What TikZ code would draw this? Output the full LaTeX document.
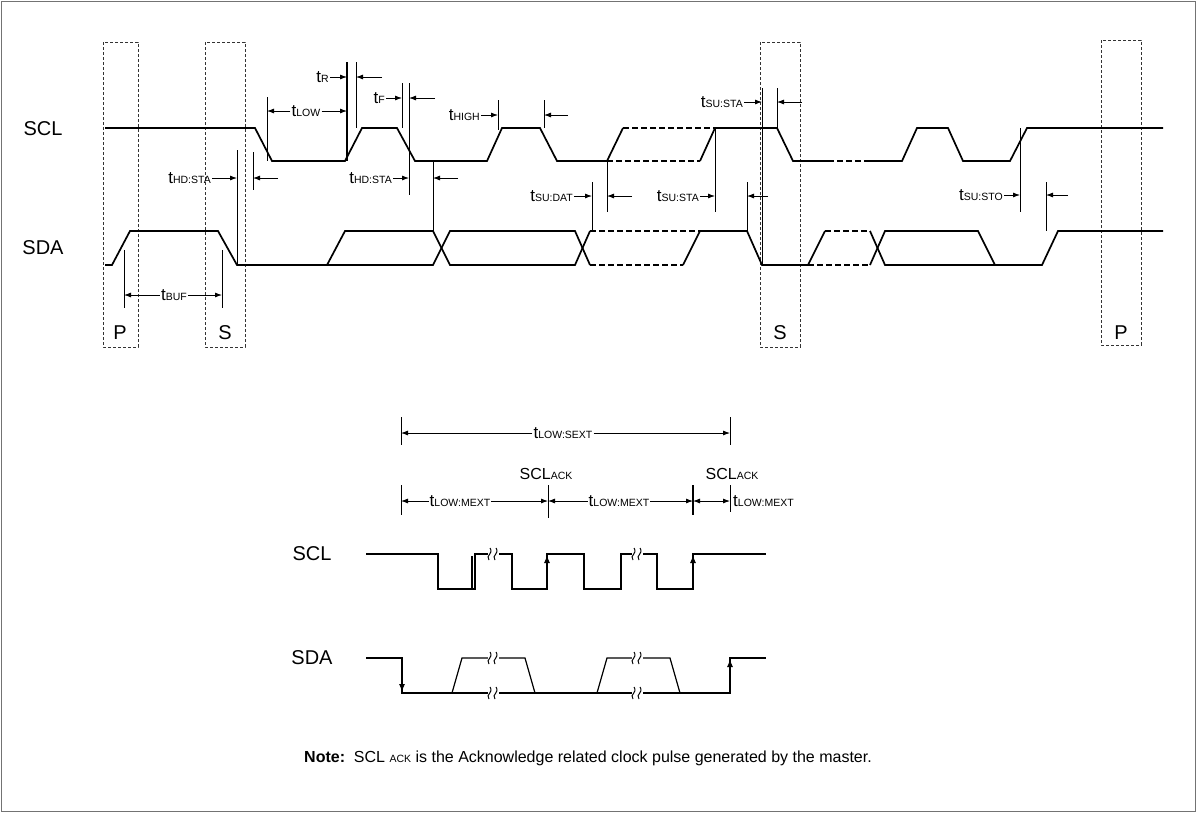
\documentclass[tikz,border=0pt]{standalone}
\usepackage{fontspec}
\setmainfont{Liberation Sans}
\usetikzlibrary{arrows.meta}
\newcommand\ts[1]{{\fontsize{17}{17}\selectfont t}{\fontsize{10.5}{10.5}\selectfont #1}}
\newcommand\squig[2]{%
  \fill[white] (#1-5,#2-7) rectangle (#1+6,#2+7);
  \draw[line width=1pt] (#1-4,#2+6) .. controls (#1-8,#2+1) and (#1+1,#2) .. (#1-3,#2-6);
  \draw[line width=1pt] (#1+2,#2+6) .. controls (#1-2,#2+1) and (#1+7,#2) .. (#1+3,#2-6);}
\begin{document}
\begin{tikzpicture}[x=1pt,y=-1pt,
  wave/.style={line width=1.7pt,line join=miter},
  dwave/.style={line width=1.7pt,dashed,dash pattern=on 6pt off 3pt},
  thin/.style={line width=0.8pt},
  lw/.style={line width=1.2pt},
  dbox/.style={line width=0.8pt,dash pattern=on 3pt off 2pt,draw=black!80},
  dim/.style={line width=0.8pt,-{Latex[length=7pt,width=5pt]}},
  udim/.style={line width=1.2pt,-{Latex[length=8pt,width=6pt]}},
  lbl/.style={font=\fontsize{20}{20}\selectfont,inner sep=1pt},
  tl/.style={inner sep=1pt}]
\useasboundingbox (0,0) rectangle (1196,812);
\draw[black!55,line width=1pt] (1,1) rectangle (1195,811);
% dashed boxes
\draw[dbox] (103,42) rectangle (138,347);
\draw[dbox] (205,42) rectangle (245,347);
\draw[dbox] (760,42) rectangle (800,347);
\draw[dbox] (1101,40) rectangle (1141,345);
\node[lbl] (p1) at (120,333) {P};
\node[lbl] (s1) at (225,333) {S};
\node[lbl] (s2) at (780,333) {S};
\node[lbl] (p2) at (1121,333) {P};
\node[lbl] (scl) at (43,129) {SCL};
\node[lbl] (sda) at (43,248) {SDA};
% SCL
\draw[wave] (105,128) -- (255,128) -- (272,161) -- (345,161) -- (362,128) -- (397,128) -- (415,161) -- (487,161) -- (502,128) -- (540,128) -- (557,161) -- (607,161) -- (623,128);
\draw[dwave] (623,128) -- (715,128);
\draw[dwave] (607,161) -- (700,161);
\draw[wave] (700,161) -- (715,128) -- (777,128) -- (793,161) -- (828,161);
\draw[dwave] (828,161) -- (865,161);
\draw[wave] (865,161) -- (902,161) -- (917,128) -- (948,128) -- (963,161) -- (1010,161) -- (1027,128) -- (1163,128);
% SDA
\draw[wave] (105,265) -- (112,265) -- (130,231) -- (218,231) -- (237,265) -- (433,265) -- (450,231) -- (575,231) -- (590,265);
\draw[wave] (327,265) -- (345,231) -- (433,231) -- (450,265) -- (575,265) -- (590,231);
\draw[dwave] (590,231) -- (700,231);
\draw[dwave] (590,265) -- (683,265);
\draw[wave] (683,265) -- (700,231) -- (747,231) -- (762,265) -- (808,265);
\draw[wave] (808,265) -- (825,231);
\draw[dwave] (825,231) -- (870,231);
\draw[dwave] (808,265) -- (870,265);
\draw[wave] (870,231) -- (885,265) -- (1042,265) -- (1058,231) -- (1163,231);
\draw[wave] (870,265) -- (885,231) -- (978,231) -- (995,265);
% verticals
\draw[thin] (237,150) -- (237,265);
\draw[thin] (253,152) -- (253,190);
\draw[thin] (124,250) -- (124,308); \draw[thin] (222,250) -- (222,308);
\draw[thin] (267,97) -- (267,161);
\draw[line width=1.4pt] (347,62) -- (347,161);
\draw[thin] (356,62) -- (356,128);
\draw[thin] (402,83) -- (402,128);
\draw[thin] (409,83) -- (409,195);
\draw[thin] (498,100) -- (498,130);
\draw[thin] (544,100) -- (544,128);
\draw[thin] (433,161) -- (433,231);
\draw[thin] (592,182) -- (592,231);
\draw[thin] (607,161) -- (607,212);
\draw[thin] (715,128) -- (715,212);
\draw[thin] (747,182) -- (747,231);
\draw[thin] (762,88) -- (762,265);
\draw[thin] (777,88) -- (777,128);
\draw[thin] (1020,128) -- (1020,212);
\draw[thin] (1046,182) -- (1046,231);
% dimension labels
\node[tl,anchor=east] (hd1) at (212,178) {\ts{HD:STA}};
\draw[dim] (hd1.east) -- (237,178);
\coordinate (hd1r) at (278,178); \draw[dim] (hd1r) -- (253,178);
\node[tl] (buf) at (174,295) {\ts{BUF}};
\draw[dim] (buf.west) -- (124,295); \draw[dim] (buf.east) -- (222,295);
\node[tl] (low) at (306,111) {\ts{LOW}};
\draw[dim] (low.west) -- (267,111); \draw[dim] (low.east) -- (347,111);
\node[tl,anchor=east] (tr) at (330,77) {\ts{R}};
\draw[dim] (tr.east) -- (347,77);
\coordinate (trr) at (382,77); \draw[dim] (trr) -- (356,77);
\node[tl,anchor=east] (tf) at (386,98) {\ts{F}};
\draw[dim] (tf.east) -- (402,98);
\coordinate (tfr) at (435,98); \draw[dim] (tfr) -- (409,98);
\node[tl,anchor=east] (th) at (481,115) {\ts{HIGH}};
\draw[dim] (th.east) -- (498,115);
\coordinate (thr) at (568,115); \draw[dim] (thr) -- (544,115);
\node[tl,anchor=east] (hd2) at (393,178) {\ts{HD:STA}};
\draw[dim] (hd2.east) -- (409,178);
\coordinate (hd2r) at (458,178); \draw[dim] (hd2r) -- (433,178);
\node[tl,anchor=east] (sud) at (574,196) {\ts{SU:DAT}};
\draw[dim] (sud.east) -- (592,196);
\coordinate (sudr) at (632,196); \draw[dim] (sudr) -- (607,196);
\node[tl,anchor=east] (sus1) at (700,196) {\ts{SU:STA}};
\draw[dim] (sus1.east) -- (715,196);
\coordinate (sus1r) at (768,196); \draw[dim] (sus1r) -- (747,196);
\node[tl,anchor=east] (sus2) at (744,102) {\ts{SU:STA}};
\draw[dim] (sus2.east) -- (762,102);
\coordinate (sus2r) at (802,102); \draw[dim] (sus2r) -- (777,102);
\node[tl,anchor=east] (sto) at (1004,195) {\ts{SU:STO}};
\draw[dim] (sto.east) -- (1020,195);
\coordinate (stor) at (1068,195); \draw[dim] (stor) -- (1046,195);
% ===== lower diagram =====
\draw[thin] (401,417) -- (401,445); \draw[thin] (730,417) -- (730,445);
\node[tl] (sext) at (563,433) {\ts{LOW:SEXT}};
\draw[dim] (sext.west) -- (401,433); \draw[dim] (sext.east) -- (730,433);
\node[tl,font=\fontsize{16}{16}\selectfont] (ack1) at (546,474) {SCL{\fontsize{10.5}{10.5}\selectfont ACK}};
\node[tl,font=\fontsize{16}{16}\selectfont] (ack2) at (732,474) {SCL{\fontsize{10.5}{10.5}\selectfont ACK}};
\draw[thin] (401,485) -- (401,515); \draw[thin] (548,485) -- (548,518);
\draw[lw] (693,485) -- (693,515); \draw[thin] (730,485) -- (730,512);
\node[tl] (m1) at (460,501) {\ts{LOW:MEXT}};
\draw[dim] (m1.west) -- (401,501); \draw[dim] (m1.east) -- (548,501);
\node[tl] (m2) at (619,501) {\ts{LOW:MEXT}};
\draw[dim] (m2.west) -- (548,501); \draw[dim] (m2.east) -- (693,501);
\coordinate (m3) at (711,501);
\draw[dim] (m3) -- (693,501); \draw[dim] (m3) -- (730,501);
\node[tl,anchor=west] (m4) at (732,501) {\ts{LOW:MEXT}};
\node[lbl] (scl2) at (312,554) {SCL};
\node[lbl] (sda2) at (312,658) {SDA};
\draw[lw] (366,554) -- (438,554) -- (438,589) -- (475,589) -- (475,554) -- (512,554) -- (512,589) -- (547,589) -- (547,554) -- (584,554) -- (584,589) -- (621,589) -- (621,554) -- (657,554) -- (657,589) -- (693,589) -- (693,554) -- (766,554);
\draw[lw] (472,589) -- (472,556);
\draw[udim] (547,580) -- (547,555);
\draw[udim] (693,580) -- (693,555);
\draw[lw] (366,658) -- (402,658) -- (402,693) -- (730,693) -- (730,658) -- (766,658);
\draw[udim] (402,672) -- (402,692);
\draw[udim] (730,680) -- (730,659);
\draw[lw] (452,693) -- (462,658) -- (525,658) -- (535,693);
\draw[lw] (597,693) -- (607,658) -- (670,658) -- (680,693);
\squig{493}{554} \squig{637}{554}
\squig{493}{658} \squig{493}{693}
\squig{637}{658} \squig{637}{693}
\node[tl,anchor=west,font=\fontsize{16}{16}\selectfont] (note) at (303,758) {\textbf{Note:}\ \ SCL {\fontsize{10.5}{10.5}\selectfont ACK} is the Acknowledge related clock pulse generated by the master.};
\end{tikzpicture}
\end{document}
